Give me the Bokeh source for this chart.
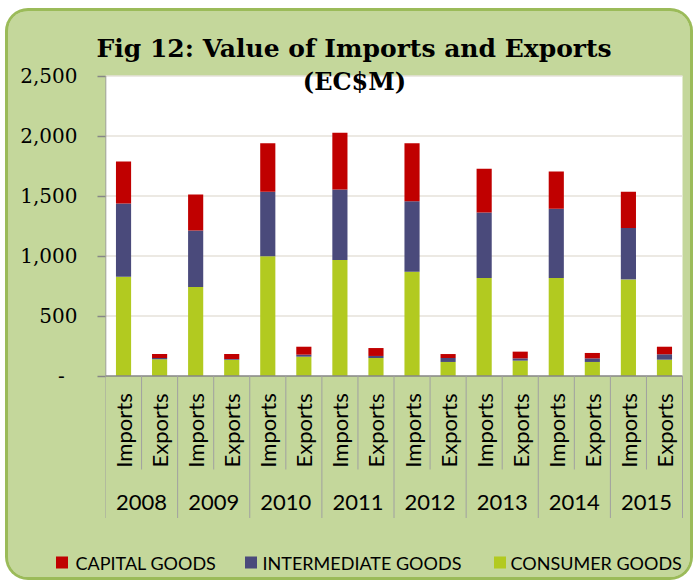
import math
from bokeh.plotting import figure
from bokeh.layouts import column
from bokeh.models import Range1d, FixedTicker, ColumnDataSource
from bokeh.core.properties import value
from bokeh.embed import file_html
from bokeh.resources import INLINE

# ---------------- data ----------------
years = ["2008", "2009", "2010", "2011", "2012", "2013", "2014", "2015"]
flows = ["Imports", "Exports"]

consumer_imports = [827, 741, 997, 967, 869, 816, 816, 805]
consumer_exports = [139, 136, 161, 150, 117, 128, 117, 136]
intermediate_imports = [610, 471, 538, 587, 588, 546, 577, 429]
intermediate_exports = [11, 6, 17, 17, 33, 19, 30, 45]
capital_imports = [351, 301, 404, 474, 482, 365, 312, 301]
capital_exports = [33, 41, 66, 66, 33, 56, 45, 63]

series_names = ["CAPITAL GOODS", "INTERMEDIATE GOODS", "CONSUMER GOODS"]
y_ticks = [0, 500, 1000, 1500, 2000, 2500]
y_tick_labels = ["-\u00a0\u00a0", "500", "1,000", "1,500", "2,000", "2,500"]
title_line1 = "Fig 12: Value of Imports and Exports"
title_line2 = "(EC$M)"

# ---------------- layout constants (page px) ----------------
OX, OY = 8, 11             # layout origin on the page
W = 682
SPLIT = 518                # page y where the legend strip starts
BOTTOM = 577
H1 = SPLIT - OY
H2 = BOTTOM - SPLIT
PLOT_L, PLOT_R = 105, 682  # plot area on page
Y0_PAGE, YTOP_PAGE = 375.5, 75.5
FRAME_TOP_PAGE = 68

FL = PLOT_L - OX
PX_X = (PLOT_R - PLOT_L) / 16
PX_Y = (Y0_PAGE - YTOP_PAGE) / 2500
FT = FRAME_TOP_PAGE - OY

RED = "#C00000"
BLUE = "#4A4A7B"
GREEN = "#B2CA20"
BG = "#C4D79B"
EDGE = "#9BBB59"
AXIS = "#868686"
GRID = "#E6E2DA"

def dx(page_x):
    return (page_x - PLOT_L) / PX_X

def dy(page_y):
    return (Y0_PAGE - page_y) / PX_Y

# ---------------- build columns ----------------
cats = [(yr, fl) for yr in years for fl in flows]
xpos = [i + 0.5 for i in range(len(cats))]
consumer, intermediate, capital = [], [], []
for a, b in zip(consumer_imports, consumer_exports):
    consumer += [a, b]
for a, b in zip(intermediate_imports, intermediate_exports):
    intermediate += [a, b]
for a, b in zip(capital_imports, capital_exports):
    capital += [a, b]

source = ColumnDataSource(dict(x=xpos, consumer=consumer,
                               intermediate=intermediate, capital=capital))

p = figure(width=W, height=H1, output_backend="svg", toolbar_location=None,
           x_range=Range1d(0, dx(OX + W)),
           y_range=Range1d(dy(SPLIT), dy(FRAME_TOP_PAGE)),
           x_axis_location=None,
           min_border_left=FL, min_border_right=0,
           min_border_top=FT, min_border_bottom=0)
p.frame_align = False
p.background_fill_color = BG
p.border_fill_color = BG
p.outline_line_color = None
p.grid.visible = False

# title
p.title.text = title_line1
p.title.text_font = "DejaVu Serif"
p.title.text_font_style = "bold"
p.title.text_font_size = "25px"
p.title.text_color = "black"
p.title.align = "left"
p.title.offset = -9
p.title.standoff = 11

# white plot area
p.quad(left=[0], right=[len(cats)], bottom=[0], top=[y_ticks[-1]],
       fill_color="white", line_color=None)
# gridlines
gy = y_ticks[1:]
p.segment(x0=[0] * len(gy), x1=[len(cats)] * len(gy), y0=gy, y1=gy,
          line_color=GRID, line_width=1.5)

# bars
rs = p.vbar_stack(["consumer", "intermediate", "capital"], x="x", width=0.42,
                  color=[GREEN, BLUE, RED], source=source, line_color=None)

# axis lines
p.segment(x0=[0], x1=[0], y0=[0], y1=[y_ticks[-1]], line_color=AXIS, line_width=1.5)
p.segment(x0=[0], x1=[len(cats)], y0=[0], y1=[0], line_color=AXIS, line_width=1.5)

# category separators
sep_x = list(range(len(cats) + 1))
sep_end = [dy(518) if i % 2 == 0 else dy(469) for i in sep_x]
p.segment(x0=sep_x, x1=sep_x, y0=[0] * len(sep_x), y1=sep_end,
          line_color="#A0A0A0", line_width=1)

# category labels
p.text(x=xpos, y=[dy(430)] * len(xpos), text=[fl for _, fl in cats],
       angle=math.pi / 2, text_align="center", text_baseline="middle",
       text_font=value("Lato"), text_font_size="22px", text_color="black")
p.text(x=[2 * i + 1 for i in range(len(years))], y=[dy(502)] * len(years),
       text=years, text_align="center", text_baseline="middle",
       text_font=value("Lato"), text_font_size="22px", text_color="black")

# second title line
p.text(x=[dx(354)], y=[dy(81)], text=[title_line2],
       text_align="center", text_baseline="middle",
       text_font=value("DejaVu Serif"), text_font_style="bold",
       text_font_size="24px", text_color="black")

# y axis
ya = p.yaxis[0]
ya.ticker = FixedTicker(ticks=y_ticks)
ya.major_label_overrides = {t: l for t, l in zip(y_ticks, y_tick_labels)}
ya.axis_line_color = None
ya.major_tick_line_color = AXIS
ya.major_tick_line_width = 1.5
ya.major_tick_out = 8
ya.major_tick_in = 0
ya.minor_tick_line_color = None
ya.major_label_standoff = 20
ya.major_label_text_font = "DejaVu Serif"
ya.major_label_text_font_size = "20px"
ya.major_label_text_color = "black"

# ---------------- legend strip ----------------
lg = figure(width=W, height=H2, output_backend="svg", toolbar_location=None,
            x_range=Range1d(OX, OX + W), y_range=Range1d(BOTTOM, SPLIT),
            x_axis_location=None, y_axis_location=None,
            min_border_left=0, min_border_right=0,
            min_border_top=0, min_border_bottom=0)
lg.frame_align = False
lg.background_fill_color = BG
lg.border_fill_color = BG
lg.outline_line_color = None
lg.grid.visible = False

swatch_x = [61.5, 250.5, 499.5]   # page px, legend layout
label_x = [75, 262, 510]
legend_y = 562
lg.scatter(x=swatch_x, y=[legend_y] * 3, marker="square", size=12,
           color=[RED, BLUE, GREEN], line_color=None)
lg.text(x=label_x, y=[legend_y] * 3, text=series_names,
        text_align="left", text_baseline="middle",
        text_font=value("Lato"), text_font_size="18px", text_color="black")

layout = column(p, lg, spacing=0)
layout.styles = {"margin": "%dpx 0px 0px %dpx" % (OY, OX),
                 "border-radius": "20px", "overflow": "hidden",
                 "background-color": BG,
                 "box-shadow": "0px 0px 0px 3px " + EDGE}

open("out.html", "w").write(file_html(layout, INLINE))
